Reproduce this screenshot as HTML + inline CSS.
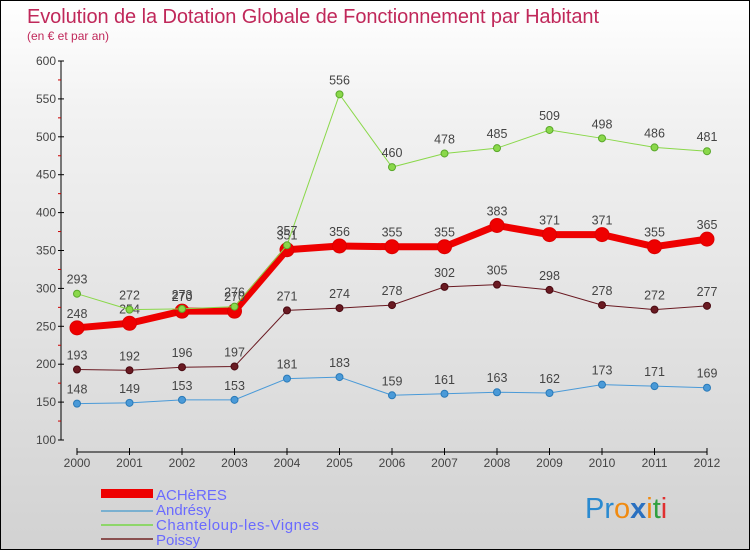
<!DOCTYPE html>
<html><head><meta charset="utf-8"><style>
body{margin:0}
#c{width:750px;height:550px;position:relative;box-sizing:border-box;border:1px solid #000;background:linear-gradient(#fff,#f2f2f2 20%,#d2d2d2);font-family:"Liberation Sans",sans-serif;overflow:hidden}
svg text{font-family:"Liberation Sans",sans-serif}
</style></head><body>
<div id="c">
<svg id="s" width="750" height="550" xmlns="http://www.w3.org/2000/svg">
<text x="26" y="22" font-size="20" fill="#c0285a" textLength="572">Evolution de la Dotation Globale de Fonctionnement par Habitant</text>
<text x="26" y="39" font-size="12" fill="#c0285a">(en € et par an)</text>
<g id="axes"></g><g id="series"></g>
<g>
<rect x="100" y="488" width="52" height="9" fill="#e00"/>
<rect x="100" y="509" width="52" height="2" fill="#7ab0d0"/>
<rect x="100" y="523" width="52" height="2" fill="#8ed66a"/>
<rect x="100" y="537" width="52" height="2" fill="#8a5050"/>
<text x="155" y="499" font-size="15" fill="#6a6aff">ACHèRES</text>
<text x="155" y="514" font-size="15" fill="#6a6aff">Andrésy</text>
<text x="155" y="529" font-size="15" fill="#6a6aff" textLength="163">Chanteloup-les-Vignes</text>
<text x="155" y="544" font-size="15" fill="#6a6aff">Poissy</text>
</g>
<g font-size="29">
<text x="584" y="517"><tspan fill="#2a8ad0">Pr</tspan><tspan fill="#f08a10">o</tspan><tspan fill="#2a70c0" font-weight="bold">x</tspan><tspan fill="#f08a10">i</tspan><tspan fill="#30a040">t</tspan><tspan fill="#e03030">i</tspan></text>
</g>
</svg></div>
<script>
const years=[2000,2001,2002,2003,2004,2005,2006,2007,2008,2009,2010,2011,2012];
const yTicks=[100,150,200,250,300,350,400,450,500,550,600];
const acheres=[248,254,270,270,351,356,355,355,383,371,371,355,365];
const andresy=[148,149,153,153,181,183,159,161,163,162,173,171,169];
const chanteloup=[293,272,273,276,357,556,460,478,485,509,498,486,481];
const poissy=[193,192,196,197,271,274,278,302,305,298,278,272,277];
const NS="http://www.w3.org/2000/svg";
const X=i=>76+i*52.5, Y=v=>439-(v-100)*(379/500);
function mk(t,a,p){const e=document.createElementNS(NS,t);for(const k in a)e.setAttribute(k,a[k]);p.appendChild(e);return e;}
const ax=document.getElementById('axes');
mk('line',{x1:60,y1:60,x2:60,y2:439,stroke:'#000'},ax);
mk('line',{x1:76,y1:451,x2:706,y2:451,stroke:'#000'},ax);
yTicks.forEach((v,i)=>{
 mk('line',{x1:57,y1:Y(v),x2:63,y2:Y(v),stroke:'#000'},ax);
 if(i<yTicks.length-1) mk('line',{x1:57,y1:Y(v+25),x2:60,y2:Y(v+25),stroke:'#c00'},ax);
 const t=mk('text',{x:55,y:Y(v)+4,'font-size':12,fill:'#444','text-anchor':'end'},ax);t.textContent=v;
 
 
});
years.forEach((y,i)=>{
 mk('line',{x1:X(i),y1:447,x2:X(i),y2:454,stroke:'#000'},ax);
 const t=mk('text',{x:X(i),y:466,'font-size':12,fill:'#444','text-anchor':'middle'},ax);t.textContent=y;
 
 
});
const sg=document.getElementById('series');
function series(data,color,w,r,name,dark){
 const g=mk('g',{},sg);
 
 
 mk('polyline',{points:data.map((v,i)=>X(i)+','+Y(v)).join(' '),fill:'none',stroke:color,'stroke-width':w},g);
 data.forEach((v,i)=>{
  const c=mk('circle',{cx:X(i),cy:Y(v),r:r,fill:color,stroke:dark,'stroke-width':1},g);
  
  
  const t=mk('text',{x:X(i),y:Y(v)-10,'font-size':12.5,fill:'#444','text-anchor':'middle'},g);t.textContent=v;
  
  
 });
}
series(poissy,'#6a1a22',1,3.5,'poissy','#4a0a12');
series(andresy,'#4a9ad8',1,3.5,'andresy','#2a7ab8');
series(acheres,'#ee0000',7,7,'acheres','#d00');
series(chanteloup,'#8ad84a',1,3.5,'chanteloup','#5aa82a');
</script>
</body></html>
